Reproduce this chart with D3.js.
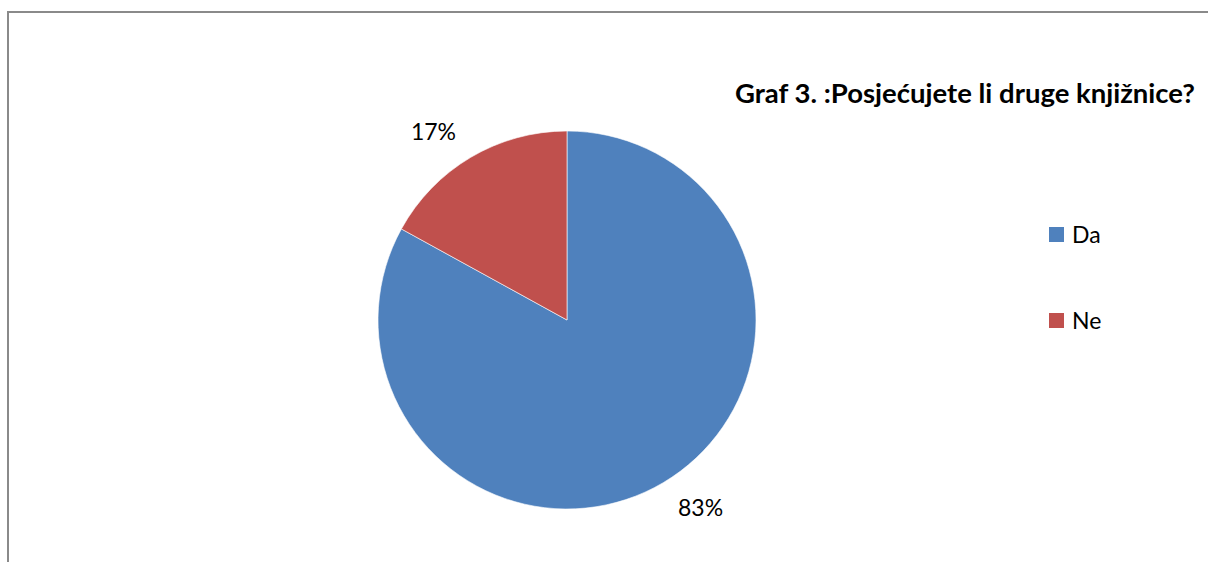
<!DOCTYPE html>
<html>
<head>
<meta charset="utf-8">
<style>
body { margin: 0; background: #fff; }
svg { display: block; font-family: Lato, "Open Sans", sans-serif; }
</style>
</head>
<body>
<svg width="1208" height="562"></svg>
<script src="https://d3js.org/d3.v7.min.js"></script>
<script>
// answers and shares (%)
var categories = ["Da", "Ne"];
var values = [83, 17];
var colors = ["#4F81BD", "#C0504D"];
var title = "Graf 3. :Posjećujete li druge knjižnice?";

var svg = d3.select("svg"),
    cx = 567, cy = 320, radius = 189;

// chart area frame (right and bottom edges fall outside the picture)
svg.append("rect")
    .attr("x", 8).attr("y", 12)
    .attr("width", 1400).attr("height", 800)
    .attr("fill", "none")
    .attr("stroke", "#8a8a8a")
    .attr("stroke-width", 2);

var data = categories.map(function(c, i) { return {name: c, value: values[i]}; });

var z = d3.scaleOrdinal().domain(categories).range(colors);

var pie = d3.pie().sort(null).value(function(d) { return d.value; });
var arc = d3.arc().innerRadius(0).outerRadius(radius);
var labelArc = d3.arc().innerRadius(218).outerRadius(218);

var g = svg.append("g").attr("transform", "translate(" + cx + "," + cy + ")");
var arcs = pie(data);

g.selectAll("path")
  .data(arcs)
  .enter().append("path")
    .attr("d", arc)
    .attr("fill", function(d) { return z(d.data.name); })
    .attr("stroke", "#fff")
    .attr("stroke-width", 0.6);

var total = d3.sum(values);
g.selectAll("text.lbl")
  .data(arcs)
  .enter().append("text")
    .attr("class", "lbl")
    .attr("transform", function(d) { return "translate(" + labelArc.centroid(d) + ")"; })
    .attr("dy", "0.35em")
    .attr("text-anchor", function(d) { return (d.startAngle + d.endAngle) / 2 > Math.PI ? "end" : "start"; })
    .attr("font-size", 23)
    .attr("fill", "#000")
    .text(function(d) { return Math.round(d.value / total * 100) + "%"; });

svg.append("text")
    .attr("x", 965)
    .attr("y", 103)
    .attr("text-anchor", "middle")
    .attr("font-size", 27.5)
    .attr("font-weight", "bold")
    .attr("fill", "#000")
    .text(title);

var legend = svg.append("g")
  .selectAll("g")
  .data(categories)
  .enter().append("g")
    .attr("transform", function(d, i) { return "translate(1049," + (227 + i * 86) + ")"; });

legend.append("rect")
    .attr("width", 15)
    .attr("height", 15)
    .attr("fill", z);

legend.append("text")
    .attr("x", 23)
    .attr("y", 16)
    .attr("font-size", 23)
    .attr("fill", "#000")
    .text(function(d) { return d; });
</script>
</body>
</html>
